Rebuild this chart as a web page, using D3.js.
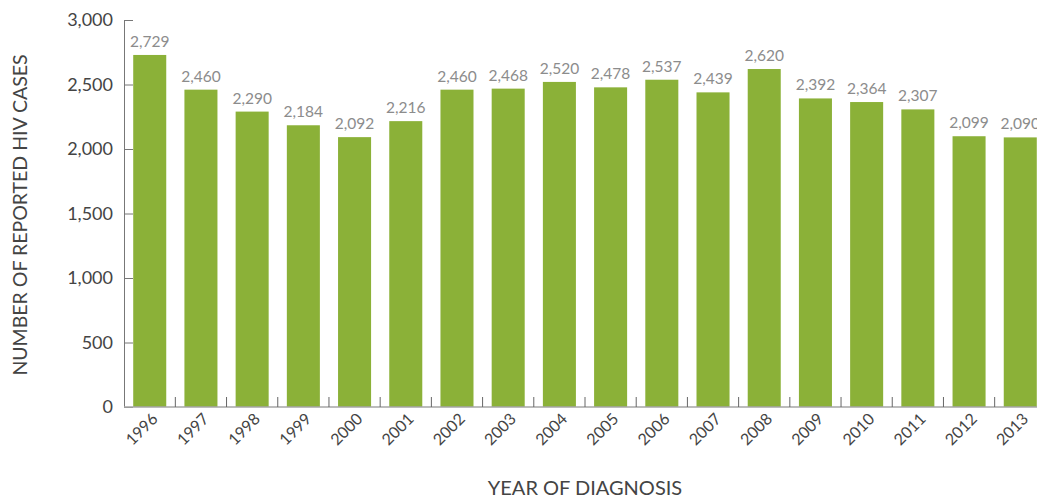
<!DOCTYPE html>
<html>
<head>
<meta charset="utf-8">
<script src="https://cdn.jsdelivr.net/npm/d3@7"></script>
<style>
  body { margin: 0; background: #fff; }
  svg { display: block; font-family: Lato, "Open Sans", sans-serif; }
</style>
</head>
<body>
<svg width="1037" height="498"></svg>
<script>
var years = ['1996','1997','1998','1999','2000','2001','2002','2003','2004','2005','2006','2007','2008','2009','2010','2011','2012','2013'];
var cases = [2729,2460,2290,2184,2092,2216,2460,2468,2520,2478,2537,2439,2620,2392,2364,2307,2099,2090];
var yTicks = [0,500,1000,1500,2000,2500,3000];

function drawChart() {
    var svg = d3.select('svg');
    var left = 124, top = 20, bottom = 407, right = 1046;

    var x = d3.scaleBand()
        .domain(years)
        .range([left, right])
        .paddingInner(0.355)
        .paddingOuter(0.18);
    var y = d3.scaleLinear().domain([0, 3000]).range([bottom, top]);

    // bars
    svg.selectAll('rect.bar')
        .data(cases)
        .enter().append('rect')
        .attr('class', 'bar')
        .attr('x', (d,i) => x(years[i]))
        .attr('y', d => y(d))
        .attr('width', x.bandwidth())
        .attr('height', d => bottom - y(d))
        .attr('fill', '#8bb138');

    // value labels
    svg.selectAll('text.val')
        .data(cases)
        .enter().append('text')
        .attr('class', 'val')
        .attr('x', (d,i) => x(years[i]) + x.bandwidth()/2)
        .attr('y', d => y(d) - 8)
        .attr('text-anchor', 'middle')
        .attr('font-size', 15.5)
        .attr('fill', '#8c8c8c')
        .text(d => d3.format(',')(d));

    // y axis (ticks point inward)
    var yAxis = d3.axisLeft(y)
        .tickValues(yTicks)
        .tickSize(-9)
        .tickPadding(11)
        .tickFormat(d3.format(','));
    var gy = svg.append('g')
        .attr('transform', 'translate(' + left + ',0)')
        .call(yAxis);
    gy.select('.domain').attr('stroke', '#777');
    gy.selectAll('.tick line').attr('stroke', '#777');
    gy.selectAll('.tick text')
        .attr('font-size', 18)
        .attr('fill', '#444')
        .attr('font-family', 'Lato, sans-serif');

    // baseline
    svg.append('line')
        .attr('x1', left).attr('x2', 1037)
        .attr('y1', bottom).attr('y2', bottom)
        .attr('stroke', '#a6a6a6')
        .attr('stroke-width', 1.5);

    // x ticks between bars
    var step = x.step();
    svg.selectAll('line.xt')
        .data(years.slice(1))
        .enter().append('line')
        .attr('class', 'xt')
        .attr('x1', d => x(d) - (step - x.bandwidth())/2)
        .attr('x2', d => x(d) - (step - x.bandwidth())/2)
        .attr('y1', bottom)
        .attr('y2', bottom - 10)
        .attr('stroke', '#666');

    // x labels
    svg.selectAll('text.xl')
        .data(years)
        .enter().append('text')
        .attr('class', 'xl')
        .attr('text-anchor', 'end')
        .attr('font-size', 16)
        .attr('fill', '#444')
        .attr('transform', d => 'translate(' + (x(d) + x.bandwidth()/2 + 9) + ',' + (bottom + 13) + ') rotate(-45)')
        .text(d => d);

    // axis titles
    svg.append('text')
        .attr('transform', 'translate(27,' + 215 + ') rotate(-90)')
        .attr('text-anchor', 'middle')
        .attr('font-size', 19.5)
        .attr('fill', '#444')
        .text('NUMBER OF REPORTED HIV CASES');
    svg.append('text')
        .attr('x', 585)
        .attr('y', 495)
        .attr('text-anchor', 'middle')
        .attr('font-size', 20)
        .attr('fill', '#444')
        .text('YEAR OF DIAGNOSIS');
}
drawChart();
</script>
</body>
</html>
